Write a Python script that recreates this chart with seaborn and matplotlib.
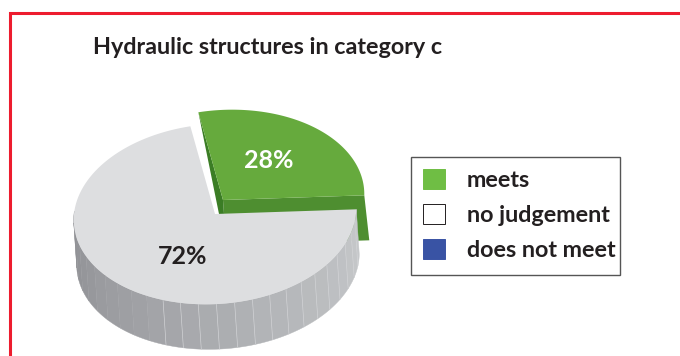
import numpy as np
import matplotlib
matplotlib.use("Agg")
import matplotlib.pyplot as plt
from matplotlib.patches import Patch, Polygon, Rectangle
import seaborn as sns

sns.set_theme(style="white")
plt.rcParams["font.family"] = ["Lato", "DejaVu Sans"]

title = "Hydraulic structures in category c"
categories = ["meets", "no judgement", "does not meet"]
shares = [28, 72, 0]
legend_colors = ["#6fbe44", "#ffffff", "#3953a4"]

INK = "#231f20"
START = 97.5
A, B, TILT = 141.5, 90.0, np.radians(4.0)
DEPTH = np.array([3.0, 45.0])
GREY_C = np.array([215.0, 214.0])
GREEN_C = np.array([223.0, 200.0])


def rim(center, deg):
    t = np.radians(np.atleast_1d(deg))
    ex, ey = A * np.cos(t), B * np.sin(t)
    x = ex * np.cos(TILT) - ey * np.sin(TILT)
    y = ex * np.sin(TILT) + ey * np.cos(TILT)
    return np.column_stack([center[0] + x, center[1] - y])


def wedge(center, a0, a1):
    return np.vstack([center, rim(center, np.linspace(a0, a1, 120))])


fig = plt.figure(figsize=(6.8, 3.56), dpi=100)
ax = fig.add_axes([0, 0, 1, 1])
ax.set_xlim(0, 680)
ax.set_ylim(356, 0)
ax.axis("off")

# frame along the top and left edges
ax.plot([680, 10, 10], [13, 13, 356], color="#ed1c2e", lw=2.2, solid_joinstyle="miter")

green_end = START
green_start = START - shares[0] / sum(shares) * 360
grey_end = green_start + 360

# green slice: cut faces first, then the top
right_pt = rim(GREEN_C, green_start)[0]
ax.add_patch(Polygon([GREEN_C, right_pt, right_pt + DEPTH + [2, 0], GREEN_C + DEPTH],
                     fc="#4e8e30", ec="none", zorder=2))
left_pt = rim(GREEN_C, green_end)[0]
ax.add_patch(Polygon([left_pt, GREEN_C, GREEN_C + [1, 14], GREEN_C + [-4, 14]],
                     fc="#3b7d25", ec="none", zorder=2))
ax.add_patch(Polygon(wedge(GREEN_C, green_start, green_end), fc="#66aa3d", ec="none", zorder=3))

# grey slice: faceted outer wall shaded from dark to light
edges = np.linspace(172, grey_end, 26)
wall = sns.blend_palette(["#8f9094", "#a0a1a5", "#b4b6b9", "#c6c8ca"], len(edges) - 1)
for i, color in enumerate(wall):
    top = rim(GREY_C, np.linspace(edges[i], edges[i + 1], 12))
    ax.add_patch(Polygon(np.vstack([top, top[::-1] + DEPTH]), fc=color, ec=color, lw=0.3, zorder=4))
    if edges[i] > 240:
        p = rim(GREY_C, edges[i])[0]
        ax.plot([p[0], p[0] + DEPTH[0]], [p[1], p[1] + DEPTH[1]], color="#d2d3d6", lw=0.45, zorder=5)
ax.add_patch(Polygon(wedge(GREY_C, START, grey_end), fc="#dddee0", ec="none", zorder=6))

ax.text(93, 48, title, fontsize=16.8, fontweight="bold", color=INK, ha="left", va="center")
ax.text(269, 161, f"{shares[0]}%", fontsize=18, fontweight="bold", color="white",
        ha="center", va="center", zorder=7)
ax.text(183, 256, f"{shares[1]}%", fontsize=18, fontweight="bold", color=INK,
        ha="center", va="center", zorder=7)

# legend box sized on its own so the text can sit close to its right side
ax.add_patch(Rectangle((411, 157), 209, 118, fc="white", ec="#555555", lw=1.0, zorder=1))
handles = [Patch(fc=c, ec=INK if c == "#ffffff" else c, lw=0.7) for c in legend_colors]
leg = ax.legend(handles, categories, loc="upper left", bbox_to_anchor=(411 / 680, 1 - 157 / 356),
                bbox_transform=ax.transAxes, borderaxespad=0, fontsize=16.8, frameon=False,
                handlelength=0.94, handleheight=0.94, handletextpad=0.94, labelspacing=0.56,
                borderpad=0.5)
for text in leg.get_texts():
    text.set_fontweight("bold")
    text.set_color(INK)

fig.savefig("out.png", dpi=100)
